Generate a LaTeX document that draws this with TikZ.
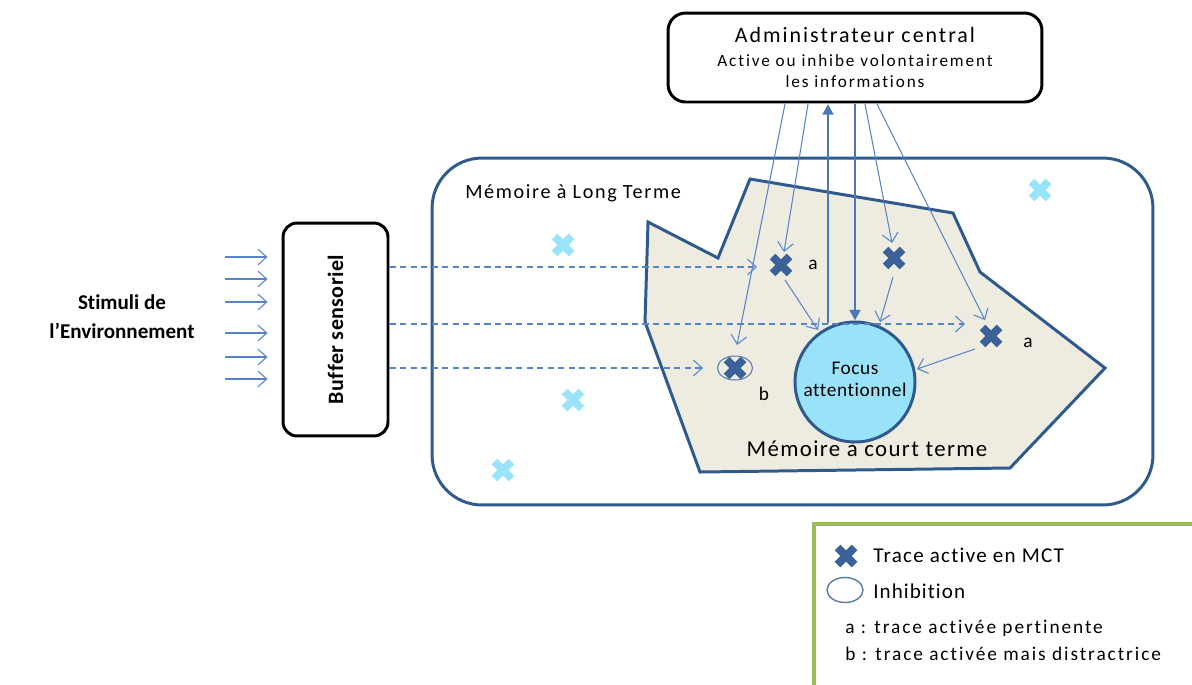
\documentclass[tikz,border=0pt]{standalone}
\usepackage{fontspec}
\setmainfont[Ligatures=NoCommon]{Carlito}
\usetikzlibrary{arrows.meta,shapes.geometric}
\definecolor{dblue}{HTML}{2F5A8E}
\definecolor{lblue}{HTML}{5585C8}
\definecolor{xdark}{HTML}{3A6298}
\definecolor{xlight}{HTML}{9AE4FB}
\definecolor{beige}{HTML}{EEECE1}
\definecolor{cyanf}{HTML}{99E3FA}
\definecolor{lgreen}{HTML}{9BBB59}
\newcommand\fsz[3]{\fontsize{#1}{#2}\selectfont\addfontfeature{LetterSpace=#3}}
\begin{document}
\begin{tikzpicture}[x=0.02cm,y=-0.02cm,
  box/.style={draw=black, line width=1.7pt, rounded corners=8pt, fill=white, inner sep=0pt},
  thinarrow/.style={draw=lblue, line width=0.6pt, -{Straight Barb[length=5pt,width=9pt]}},
  dasharrow/.style={thinarrow, dash pattern=on 3.5pt off 2.5pt},
  thickarrow/.style={draw=lblue!70!dblue, line width=1.6pt, -{Triangle[length=6pt,width=6pt]}},
  darkx/.pic={\draw[xdark, line width=4.5pt] (-8.5,-8.5)--(8.5,8.5) (-8.5,8.5)--(8.5,-8.5);},
  lightx/.pic={\draw[xlight, line width=4.5pt] (-8.5,-8.5)--(8.5,8.5) (-8.5,8.5)--(8.5,-8.5);},
  lbl/.style={inner sep=0pt, font=\fontsize{11}{13}\selectfont},
]
\useasboundingbox (0,0) rectangle (1192,684);

% long-term memory frame
\node[draw=dblue, line width=1.7pt, rounded corners=1cm, minimum width=14.42cm, minimum height=6.94cm] (ltm) at (792.5,331.5) {};
\node[lbl, anchor=west, font=\fsz{11.5}{13}{8}] (ltmlabel) at (465,193) {Mémoire à Long Terme};

% short-term memory polygon
\draw[dblue, line width=1.7pt, fill=beige, line join=miter] (750,179) -- (953,213) -- (980,272) -- (1105,368) -- (1010,468) -- (700,472) -- (645,322) -- (648,222) -- (718,258) -- cycle;
\node[lbl, font=\fsz{13}{15}{6}] (stmlabel) at (867,449) {Mémoire à court terme};

% light crosses (inactive traces)
\pic at (563,245) {lightx};
\pic at (1040,190) {lightx};
\pic at (573,400) {lightx};
\pic at (503,470) {lightx};

% focus
\node[circle, draw=dblue, line width=1.7pt, fill=cyanf, minimum size=2.4cm, inner sep=0pt, align=center, font=\fsz{11}{12.5}{3}] (focus) at (855,382) {Focus\\attentionnel\\[-9pt]};

% active traces
\coordinate (ta1) at (781,265);
\coordinate (ta2) at (894,258);
\coordinate (ta3) at (991,336);
\coordinate (tb) at (735,368);
\pic at (ta1) {darkx};
\pic at (ta2) {darkx};
\pic at (ta3) {darkx};
\pic at (tb) {darkx};
\node[ellipse, draw=dblue!80, line width=0.6pt, minimum width=0.7cm, minimum height=0.48cm, inner sep=0pt] (inhib) at (tb) {};
\node[lbl] (la1) at (813,265) {a};
\node[lbl] (la2) at (1028,343) {a};
\node[lbl] (lb) at (764,394) {b};

% administrator
\node[box, rounded corners=10pt, minimum width=7.48cm, minimum height=1.78cm] (admin) at (855,57.5) {};
\node[lbl, font=\fsz{12.5}{14}{9}] (admint) at (855,35) {Administrateur central};
\node[lbl, align=center, font=\fsz{9.8}{12}{11}] (admins) at (855,71) {Active ou inhibe volontairement\\les informations};

% buffer
\node[box, minimum width=2.1cm, minimum height=4.26cm] (buffer) at (335.5,329.5) {};
\node[lbl, rotate=90, font=\bfseries\fsz{12.5}{14}{2}] (buffert) at (buffer.center) {Buffer sensoriel};

% stimuli
\node[align=center, inner sep=0pt, font=\bfseries\fontsize{12}{16.4}\selectfont] (stim) at (122,317) {Stimuli de\\l’Environnement};
\foreach \yy in {257,279,302,333,357,379}{
  \draw[thinarrow] (225,\yy) -- ([xshift=-0.28cm]buffer.west |- 0,\yy);
}

% dashed sensory flows
\coordinate (d1) at (757,267);
\coordinate (d2) at (965,324);
\coordinate (d3) at (703,368);
\draw[dasharrow] (buffer.east |- d1) -- (d1);
\draw[dasharrow] (buffer.east |- d2) -- (d2);
\draw[dasharrow] (buffer.east |- d3) -- (d3);

% administrator arrows
\coordinate (s1) at (785,104);
\coordinate (s2) at (808,104);
\coordinate (s3) at (828,104);
\coordinate (s4) at (855,104);
\coordinate (s5) at (865,104);
\coordinate (s6) at (877,104);
\coordinate (e1) at (737,345);
\coordinate (e2) at (784,252);
\coordinate (e3) at (828,323);
\coordinate (e5) at (892,243);
\coordinate (e6) at (985,320);
\draw[thinarrow] (s1) -- (e1);
\draw[thinarrow] (s2) -- (e2);
\draw[thickarrow] (e3) -- (s3);
\draw[thickarrow] (s4) -- (focus.north);
\draw[thinarrow] (s5) -- (e5);
\draw[thinarrow] (s6) -- (e6);

% traces to focus
\coordinate (f1s) at (785,280);
\coordinate (f1e) at (818,330);
\coordinate (f2s) at (893,277);
\coordinate (f2e) at (880,322);
\coordinate (f3s) at (975,349);
\coordinate (f3e) at (917,369);
\draw[thinarrow] (f1s) -- (f1e);
\draw[thinarrow] (f2s) -- (f2e);
\draw[thinarrow] (f3s) -- (f3e);

% legend
\node[draw=lgreen, line width=2pt, anchor=north west, minimum width=8cm, minimum height=4cm] (legend) at (812,522) {};
\pic at (846,556) {darkx};
\node[lbl, anchor=west, font=\fsz{12}{14}{6}] (lg1) at (873,555) {Trace active en MCT};
\node[ellipse, draw=dblue!80, line width=0.8pt, minimum width=0.72cm, minimum height=0.5cm, inner sep=0pt] (lgell) at (845,590) {};
\node[lbl, anchor=west, font=\fsz{12}{14}{5}] (lg2) at (873,591) {Inhibition};
\node[lbl, anchor=west, font=\fsz{11}{13}{10}] (lg3) at (845,628) {a : trace activée pertinente};
\node[lbl, anchor=west, font=\fsz{11}{13}{10}] (lg4) at (845,654) {b : trace activée mais distractrice};
\end{tikzpicture}
\end{document}
